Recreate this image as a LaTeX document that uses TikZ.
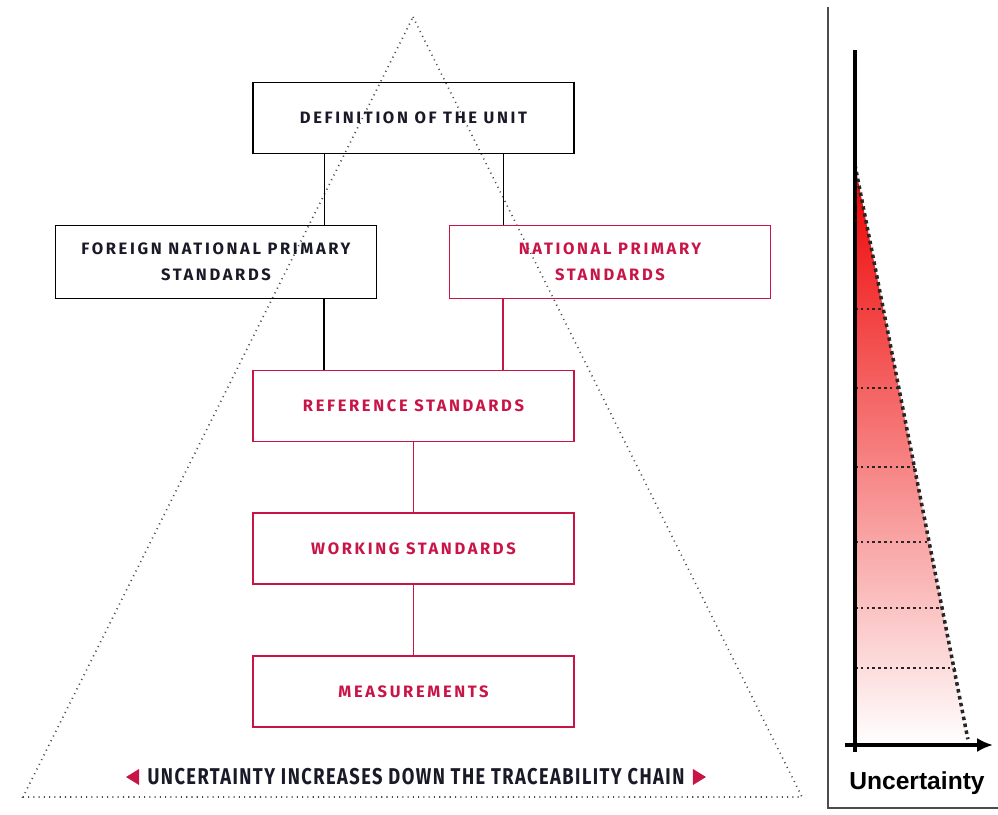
\documentclass[tikz,border=0pt]{standalone}
\usepackage{fontspec}
\usepackage{graphicx}
\usetikzlibrary{arrows.meta,calc}
\newfontfamily\boxfont[LetterSpace=16]{Fira Sans}
\newfontfamily\capfont[LetterSpace=8]{Fira Sans}
\newfontfamily\axisfont{Liberation Sans}
\definecolor{crimson}{RGB}{200,20,70}
\definecolor{inkblue}{RGB}{25,25,40}
\definecolor{hotred}{RGB}{238,0,0}
\definecolor{midred}{RGB}{250,110,110}

\begin{document}
\begin{tikzpicture}[x=0.02cm, y=-0.02cm, line width=0.8pt,
    stdbox/.style={draw, minimum width=6.42cm, minimum height=1.42cm, align=center,
      inner sep=0pt, text=inkblue, font=\boxfont\bfseries\fontsize{9.4}{15}\selectfont},
    redbox/.style={stdbox, draw=crimson, text=crimson},
    pyramid/.style={gray!60!black, line width=0.9pt, dash pattern=on 0.6pt off 2.4pt},
    tick/.style={line width=1.6pt, dash pattern=on 1.5pt off 1.8pt, black!85}]
    \useasboundingbox (0,0) rectangle (998,815);

    % dotted pyramid behind the chain
    \draw[pyramid] (413,17) -- (802,797) -- (23,797) -- cycle;

    % boxes of the traceability chain
    \node[stdbox] (defunit) at (413.5,118) {DEFINITION OF THE UNIT};
    \node[stdbox, minimum height=1.46cm] (fnps) at (216,262) {FOREIGN NATIONAL PRIMARY\\STANDARDS};
    \node[redbox, minimum height=1.46cm] (nps) at (610,262) {NATIONAL PRIMARY\\STANDARDS};
    \node[redbox] (refstd) at (413.5,406) {REFERENCE STANDARDS};
    \node[redbox] (workstd) at (413.5,548.5) {WORKING STANDARDS};
    \node[redbox] (meas) at (413.5,691.5) {MEASUREMENTS};

    % connectors
    \draw ([xshift=-1.78cm]defunit.south) -- ([xshift=-1.78cm]defunit.south |- fnps.north);
    \draw ([xshift=1.8cm]defunit.south) -- ([xshift=1.8cm]defunit.south |- nps.north);
    \draw ([xshift=2.16cm]fnps.south) -- ([xshift=2.16cm]fnps.south |- refstd.north);
    \draw[crimson] ([xshift=-2.14cm]nps.south) -- ([xshift=-2.14cm]nps.south |- refstd.north);
    \draw[crimson] (refstd) -- (workstd);
    \draw[crimson] (workstd) -- (meas);

    % caption with pointers
    \node[inkblue, font=\capfont\bfseries\fontsize{13}{15}\selectfont] (caption) at (416,777)
      {\scalebox{0.8}[1]{UNCERTAINTY INCREASES DOWN THE TRACEABILITY CHAIN}};
    \fill[crimson] ($(caption.west)+(-15,0)$) -- ++(13,-8) -- ++(0,16) -- cycle;
    \fill[crimson] ($(caption.east)+(15,0)$) -- ++(-13,-8) -- ++(0,16) -- cycle;

    % uncertainty chart
    \draw[gray!60!black, line width=1.3pt] (828,7) -- (828,808) -- (998,808);
    \coordinate (top) at (855,165);
    \coordinate (origin) at (855,745);
    \coordinate (far) at (969,745);
    \shade[top color=hotred, middle color=midred, bottom color=white] (top) -- (origin) -- (far) -- cycle;
    \foreach \y in {309,388,467,542,608,668}
      \draw[tick] (855,\y) -- ({855+0.197*(\y-165)},\y);
    \draw[line width=2pt, dash pattern=on 2pt off 2pt, black!85] (top) -- ($(top)!0.99!(far)$);
    \draw[line width=2pt] (855,50) -- (855,752);
    \draw[line width=2pt, -{Latex[length=9pt,width=8pt]}] (845,745) -- (993,745);
    \node[font=\axisfont\bfseries\fontsize{14}{16}\selectfont] (ulabel) at (917,783) {Uncertainty};
\end{tikzpicture}
\end{document}
